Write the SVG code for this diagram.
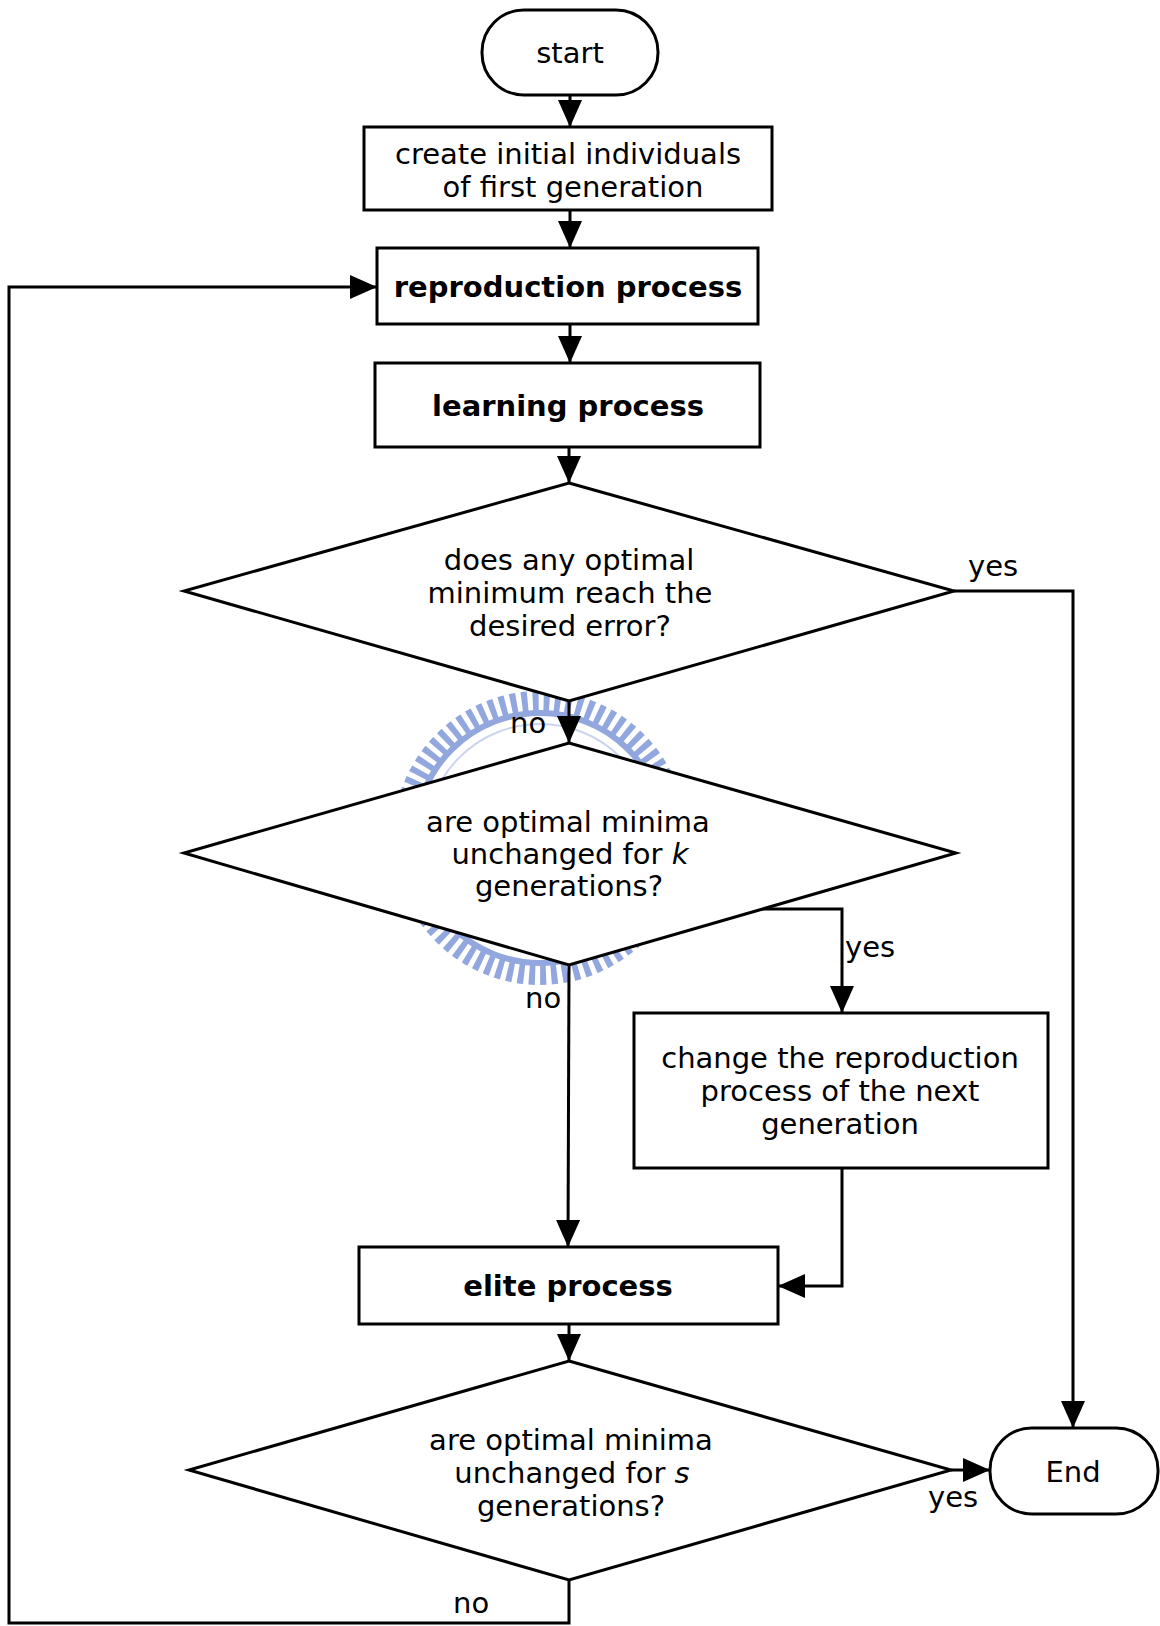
<svg xmlns="http://www.w3.org/2000/svg" width="1160" height="1626" viewBox="0 0 1160 1626">
<defs>
<marker id="arr" markerUnits="userSpaceOnUse" markerWidth="28" markerHeight="24" refX="27" refY="12" orient="auto">
<path d="M0,0 L27,12 L0,24 Z" fill="#000"/>
</marker>
<style>
.shape{fill:#fff;stroke:#000;stroke-width:3}
.t{font-family:"DejaVu Sans","Verdana",sans-serif;font-size:29px;fill:#000;text-anchor:middle}
.b{font-weight:bold}
.l{font-family:"DejaVu Sans","Verdana",sans-serif;font-size:29px;fill:#000}
.c{fill:none;stroke:#000;stroke-width:3}
</style>
</defs>
<rect width="1160" height="1626" fill="#fff"/>
<g id="watermark" fill="none">
<circle cx="540" cy="838" r="137" stroke="#93a7df" stroke-width="20" stroke-dasharray="6 5"/>
<circle cx="540" cy="838" r="125" stroke="#93a7df" stroke-width="6"/>
<circle cx="540" cy="838" r="114" stroke="#ccd5f0" stroke-width="2"/>
</g>
<g id="connectors">
<path class="c" d="M570,95 V127" marker-end="url(#arr)"/>
<path class="c" d="M570,210 V248" marker-end="url(#arr)"/>
<path class="c" d="M570,324 V363" marker-end="url(#arr)"/>
<path class="c" d="M569,447 V483" marker-end="url(#arr)"/>
<path class="c" d="M569,701 V743" marker-end="url(#arr)"/>
<path class="c" d="M954,591 H1073 V1428" marker-end="url(#arr)"/>
<path class="c" d="M761,909 H842 V1013" marker-end="url(#arr)"/>
<path class="c" d="M569,965 L568,1247" marker-end="url(#arr)"/>
<path class="c" d="M842,1168 V1286 H778" marker-end="url(#arr)"/>
<path class="c" d="M569,1324 V1361" marker-end="url(#arr)"/>
<path class="c" d="M951,1470 H990" marker-end="url(#arr)"/>
<path class="c" d="M569,1580 V1623 H9 V287 H377" marker-end="url(#arr)"/>
</g>
<g id="start">
<rect class="shape" x="482" y="10" width="176" height="85" rx="42" ry="42"/>
<text class="t" x="570" y="63">start</text>
</g>
<g id="create">
<rect class="shape" x="364" y="127" width="408" height="83"/>
<text class="t" x="568" y="164">create initial individuals</text>
<text class="t" x="573" y="197">of first generation</text>
</g>
<g id="reproduction">
<rect class="shape" x="377" y="248" width="381" height="76"/>
<text class="t b" x="568" y="297">reproduction process</text>
</g>
<g id="learning">
<rect class="shape" x="375" y="363" width="385" height="84"/>
<text class="t b" x="568" y="416">learning process</text>
</g>
<g id="decision1">
<polygon class="shape" points="569,483 954,591 569,701 184,591"/>
<text class="t" x="569" y="570">does any optimal</text>
<text class="t" x="570" y="603">minimum reach the</text>
<text class="t" x="570" y="636">desired error?</text>
</g>
<g id="decision2">
<polygon class="shape" points="569,743 956,853 569,965 184,853"/>
<text class="t" x="568" y="832">are optimal minima</text>
<text class="t" x="570" y="864">unchanged for <tspan font-style="italic">k</tspan></text>
<text class="t" x="569" y="896">generations?</text>
</g>
<g id="change">
<rect class="shape" x="634" y="1013" width="414" height="155"/>
<text class="t" x="840" y="1068">change the reproduction</text>
<text class="t" x="840" y="1101">process of the next</text>
<text class="t" x="840" y="1134">generation</text>
</g>
<g id="elite">
<rect class="shape" x="359" y="1247" width="419" height="77"/>
<text class="t b" x="568" y="1296">elite process</text>
</g>
<g id="decision3">
<polygon class="shape" points="569,1361 951,1470 569,1580 189,1470"/>
<text class="t" x="571" y="1450">are optimal minima</text>
<text class="t" x="572" y="1483">unchanged for <tspan font-style="italic">s</tspan></text>
<text class="t" x="571" y="1516">generations?</text>
</g>
<g id="end">
<rect class="shape" x="990" y="1428" width="168" height="86" rx="42" ry="42"/>
<text class="t" x="1073" y="1482">End</text>
</g>
<g id="labels">
<text class="l" x="968" y="576">yes</text>
<text class="l" x="510" y="733">no</text>
<text class="l" x="845" y="957">yes</text>
<text class="l" x="525" y="1008">no</text>
<text class="l" x="928" y="1507">yes</text>
<text class="l" x="453" y="1613">no</text>
</g>
</svg>
